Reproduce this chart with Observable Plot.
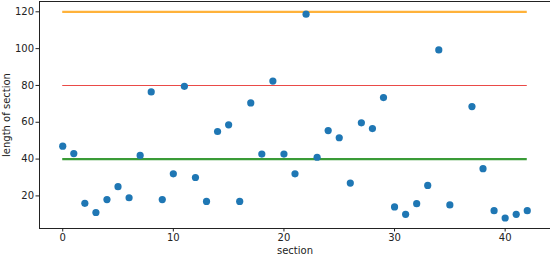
<!DOCTYPE html>
<html><head><meta charset="utf-8">
<script src="https://cdn.jsdelivr.net/npm/d3@7"></script>
<script src="https://cdn.jsdelivr.net/npm/@observablehq/plot@0.6"></script>
<style>html,body{margin:0;padding:0;background:#fff;overflow:hidden} svg{display:block}</style>
</head><body><div id="chart"></div>
<script>
const sections = [0,1,2,3,4,5,6,7,8,9,10,11,12,13,14,15,16,17,18,19,20,21,22,23,24,25,26,27,28,29,30,31,32,33,34,35,37,38,39,40,41,42];
const lengths  = [47,43,16,11,18,25,19,42,76.5,18,32,79.5,30,17,55,58.6,17,70.5,42.7,82.4,42.7,32,118.7,41,55.5,51.6,27,59.7,56.6,73.4,14,10,15.8,25.7,99.3,15.1,68.5,34.8,12,8,10,12];
const refLevels = [120, 80, 40];
const refColors = ["#ffb23a", "#ea4a47", "#3a9b37"];
const refWidths = [2.2, 1.1, 2.2];
const refStart = 0, refEnd = 42;
const xTicks = [0, 10, 20, 30, 40];
const yTicks = [20, 40, 60, 80, 100, 120];
const xDomain = [-2.1, 44.1];
const yDomain = [2.3, 125.6];

const data = sections.map((s, i) => ({section: s, length: lengths[i]}));
const refs = refLevels.map((v, i) => ({level: v, color: refColors[i], width: refWidths[i]}));

const chart = Plot.plot({
  width: 550, height: 254,
  marginLeft: 39, marginRight: 0, marginTop: 1, marginBottom: 26,
  style: {fontFamily: "DejaVu Sans", fontSize: "10px", color: "#222", background: "#fff"},
  x: {domain: xDomain},
  y: {domain: yDomain},
  marks: [
    ...refs.map(r => Plot.ruleY([r], {y: "level", x1: () => refStart, x2: () => refEnd, stroke: r.color, strokeWidth: r.width})),
    Plot.dot(data, {x: "section", y: "length", r: 3.6, fill: "#1f77b4", stroke: null}),
    Plot.ruleX([xDomain[0]], {stroke: "#222", strokeWidth: 1}),
    Plot.ruleY(yDomain, {stroke: "#222", strokeWidth: 1}),
    Plot.axisX({ticks: xTicks, tickSize: 3.5, tickPadding: 2, label: "section", labelAnchor: "center", labelArrow: "none", labelOffset: 25, fontSize: 10}),
    Plot.axisY({ticks: yTicks, tickSize: 3.5, tickPadding: 2, label: "length of section", labelAnchor: "center", labelArrow: "none", labelOffset: 37, fontSize: 10})
  ]
});
document.getElementById("chart").appendChild(chart);
</script>
</body></html>
